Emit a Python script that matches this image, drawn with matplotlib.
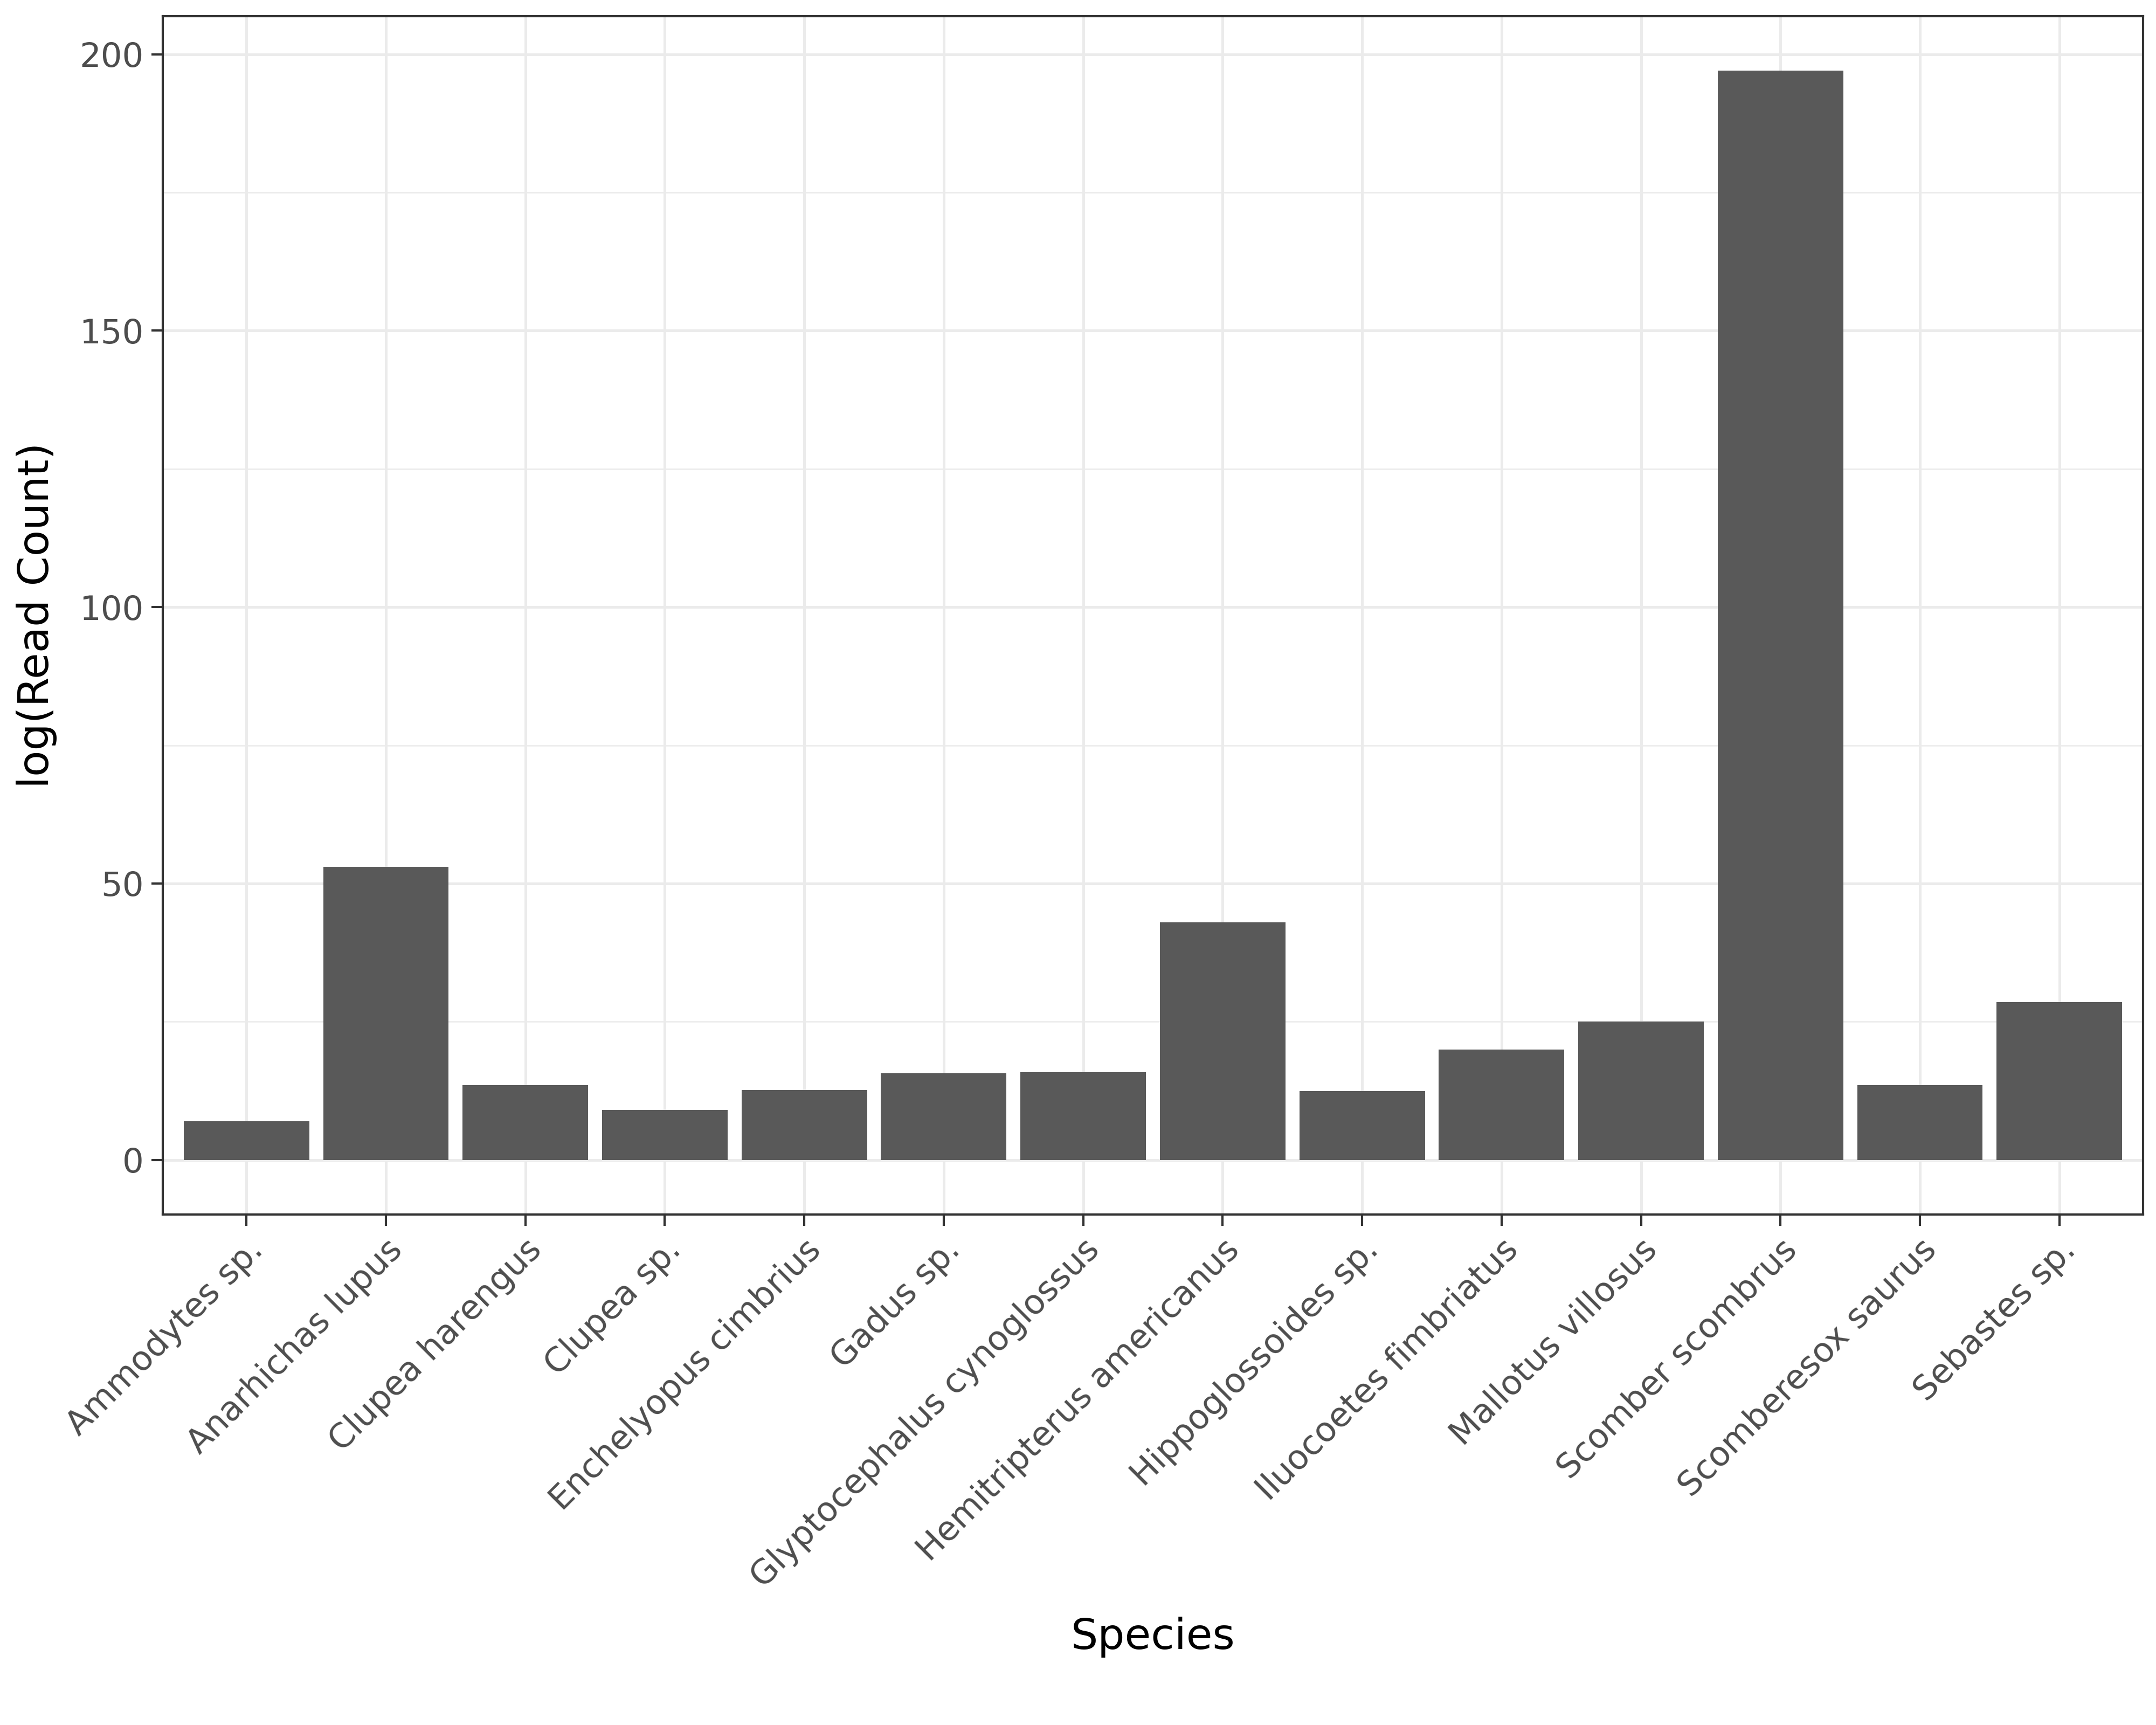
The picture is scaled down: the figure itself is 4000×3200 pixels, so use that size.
import matplotlib
matplotlib.use("Agg")
import matplotlib.pyplot as plt

species = [
    "Ammodytes sp.", "Anarhichas lupus", "Clupea harengus", "Clupea sp.",
    "Enchelyopus cimbrius", "Gadus sp.", "Glyptocephalus cynoglossus",
    "Hemitripterus americanus", "Hippoglossoides sp.", "Iluocoetes fimbriatus",
    "Mallotus villosus", "Scomber scombrus", "Scomberesox saurus", "Sebastes sp.",
]
log_counts = [7.0, 53.0, 13.5, 9.0, 12.7, 15.7, 15.9, 43.0, 12.5, 20.0, 25.0, 197.0, 13.5, 28.5]

fig = plt.figure(figsize=(4000 / 300, 3200 / 300), dpi=300)
ax = fig.add_axes([0.0755, 0.296, 0.9185, 0.6945])
x = list(range(len(species)))
ax.bar(x, log_counts, width=0.9, color="#595959", zorder=2)

ax.set_xlim(-0.6, len(species) - 0.4)
ax.set_ylim(-9.85, 206.85)
ax.set_yticks([0, 50, 100, 150, 200])
ax.set_yticks([25, 75, 125, 175], minor=True)
ax.set_xticks(x)
ax.set_xticklabels(species, rotation=45, ha="right", rotation_mode="anchor")
ax.grid(True, which="major", color="#ebebeb", linewidth=1.2, zorder=0)
ax.grid(True, which="minor", axis="y", color="#ebebeb", linewidth=0.6, zorder=0)
ax.tick_params(which="minor", length=0)
ax.tick_params(which="major", labelsize=15, colors="#333333", length=5, width=1)
ax.tick_params(axis="x", labelcolor="#4d4d4d")
ax.tick_params(axis="y", labelcolor="#4d4d4d")
for s in ax.spines.values():
    s.set_color("#333333")
    s.set_linewidth(1)
ax.set_xlabel("Species", fontsize=19, labelpad=10)
ax.set_ylabel("log(Read Count)", fontsize=19, labelpad=10)
fig.savefig("out.png")
